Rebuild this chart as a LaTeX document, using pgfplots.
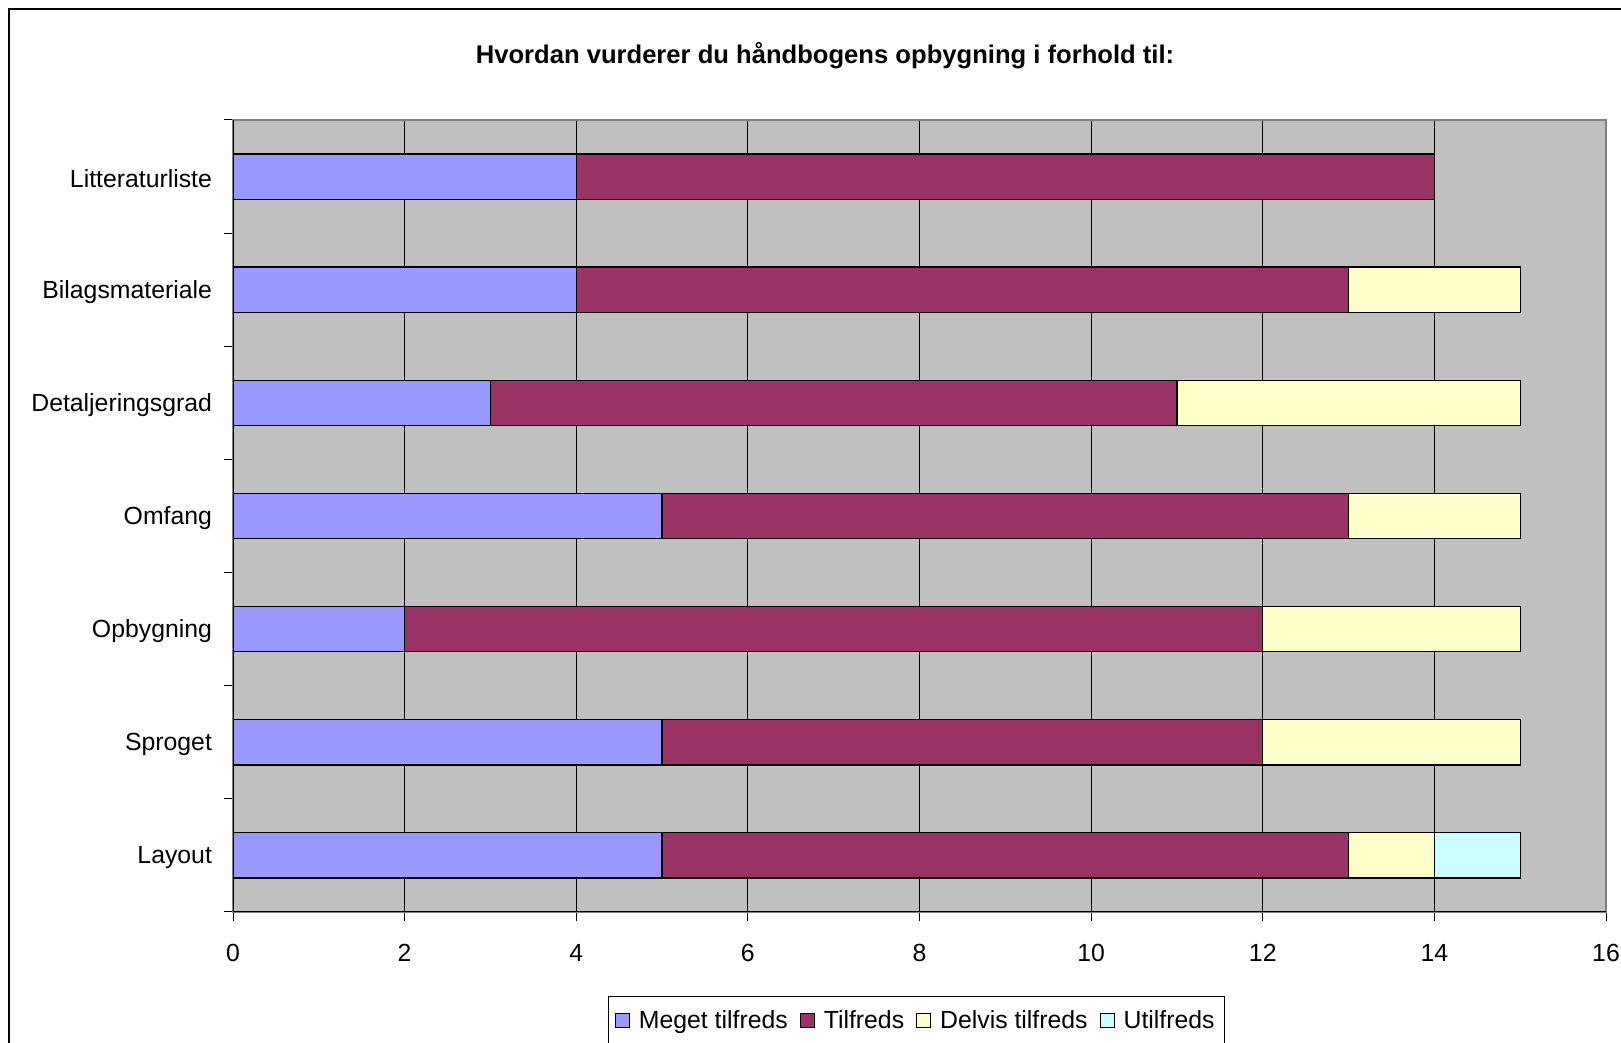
\documentclass[border=0pt]{standalone}
\usepackage{pgfplots}
\pgfplotsset{compat=1.18}
\usepackage{fontspec}
\setmainfont{Liberation Sans}
\definecolor{cMeget}{HTML}{9999FF}
\definecolor{cTil}{HTML}{993366}
\definecolor{cDelvis}{HTML}{FFFFCC}
\definecolor{cUtil}{HTML}{CCFFFF}
\definecolor{cBg}{HTML}{C0C0C0}
\begin{document}
\begin{tikzpicture}[x=1pt,y=1pt]
\useasboundingbox (0,0) rectangle (810.5,521.5);
\draw[line width=1.4pt] (4.5,-20) -- (4.5,517) -- (840,517);
\node[font=\bfseries\fontsize{12.8}{15}\selectfont] at (412.5,493.5) {Hvordan vurderer du håndbogens opbygning i forhold til:};
\begin{axis}[
  at={(116.5pt,65.5pt)}, anchor=south west,
  scale only axis, width=686.5pt, height=396pt,
  xbar stacked, bar width=0.4,
  xmin=0, xmax=16, ymin=-0.5, ymax=6.5,
  xtick={0,2,...,16}, xtick pos=bottom, ytick pos=left,
  ytick={-0.5,0.5,1.5,2.5,3.5,4.5,5.5,6.5}, yticklabels={},
  extra y ticks={0,1,2,3,4,5,6},
  extra y tick labels={Layout,Sproget,Opbygning,Omfang,Detaljeringsgrad,Bilagsmateriale,Litteraturliste},
  extra y tick style={major tick length=0pt, yticklabel style={xshift=-7pt, yshift=-1pt}},
  tick align=outside, major tick length=4.5pt,
  tick style={black, line width=0.5pt},
  xmajorgrids, major grid style={black, line width=0.5pt},
  axis background/.style={fill=cBg},
  axis line style={draw=gray, line width=0.8pt},
  ticklabel style={font=\fontsize{12.4}{14}\selectfont},
  /pgf/number format/assume math mode=true,
  xticklabel style={yshift=-8pt},
  legend columns=4,
  legend style={at={(0.498,-0.1375)}, anchor=center, draw=black, line width=0.5pt,
    font=\fontsize{12.4}{14}\selectfont, inner xsep=3pt, inner ysep=5pt,
    /tikz/every odd column/.append style={column sep=2.5pt},
    /tikz/every even column/.append style={column sep=4pt}},
  legend image code/.code={\draw[#1, line width=0.5pt, draw=black] (0pt,-3.5pt) rectangle (7pt,3.5pt);},
  every axis plot/.append style={draw=black, line width=0.6pt},
]
\addplot[fill=cMeget] coordinates {(5,0) (5,1) (2,2) (5,3) (3,4) (4,5) (4,6)};
\addplot[fill=cTil] coordinates {(8,0) (7,1) (10,2) (8,3) (8,4) (9,5) (10,6)};
\addplot[fill=cDelvis] coordinates {(1,0) (3,1) (3,2) (2,3) (4,4) (2,5) (0,6)};
\addplot[fill=cUtil] coordinates {(1,0) (0,1) (0,2) (0,3) (0,4) (0,5) (0,6)};
\legend{Meget tilfreds, Tilfreds, Delvis tilfreds, Utilfreds}
\draw[black, line width=0.8pt] (rel axis cs:0,1) -- (rel axis cs:0,0) -- (rel axis cs:1,0);
\end{axis}
\end{tikzpicture}
\end{document}
